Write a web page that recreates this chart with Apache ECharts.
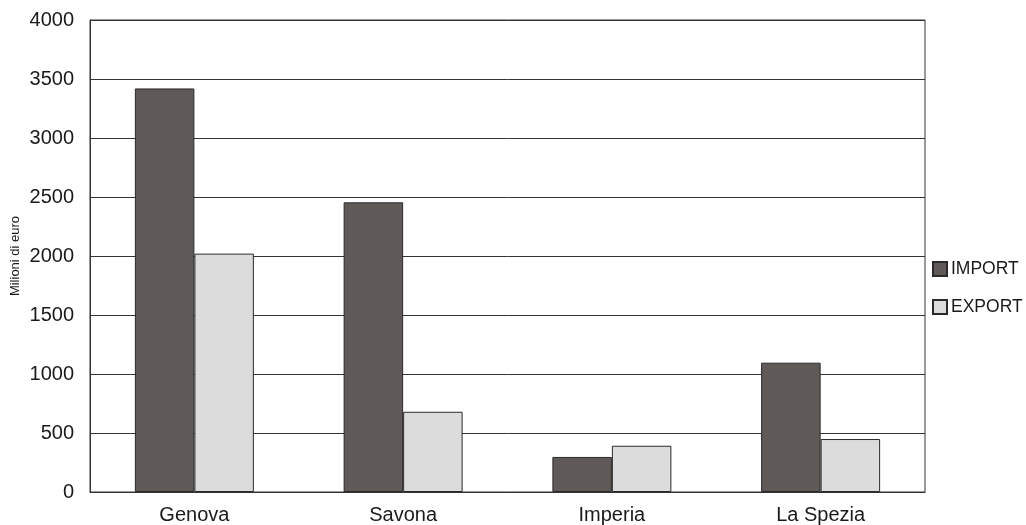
<!DOCTYPE html>
<html><head><meta charset="utf-8">
<script src="https://cdn.jsdelivr.net/npm/echarts@6/dist/echarts.min.js"></script>
<style>html,body{margin:0;padding:0;background:#fff}#c{width:1026px;height:525px}</style>
</head><body><div id="c"></div>
<script>
const categories = ['Genova', 'Savona', 'Imperia', 'La Spezia'];
const importValues = [3420, 2455, 297, 1096];
const exportValues = [2020, 680, 392, 449];
const yTicks = { min: 0, max: 4000, interval: 500 };

const chart = echarts.init(document.getElementById('c'));
const font = 'Liberation Sans, Arial, sans-serif';
chart.setOption({
  animation: false,
  backgroundColor: '#fff',
  grid: { left: 90, right: 101, top: 20, bottom: 33, show: true, borderColor: '#333', borderWidth: 1, outerBoundsMode: 'none', containLabel: false },
  legend: {
    orient: 'vertical', left: 932, top: 260, padding: 0, itemGap: 20, itemWidth: 14, itemHeight: 14,
    icon: 'rect', textStyle: { fontFamily: font, fontSize: 17.5, color: '#1a1a1a', padding: [0,0,0,-1] },
    data: ['IMPORT', 'EXPORT']
  },
  xAxis: {
    type: 'category', data: categories,
    axisLine: { lineStyle: { color: '#333' } }, axisTick: { show: false },
    axisLabel: { fontFamily: font, fontSize: 20, color: '#1a1a1a', margin: 13 }
  },
  yAxis: {
    type: 'value', min: yTicks.min, max: yTicks.max, interval: yTicks.interval,
    name: 'Milioni di euro', nameLocation: 'middle', nameGap: 68, nameRotate: 90, nameMoveOverlap: false,
    nameTextStyle: { fontFamily: font, fontSize: 13, color: '#1a1a1a' },
    axisLine: { show: true, lineStyle: { color: '#333' } }, axisTick: { show: false },
    axisLabel: { fontFamily: font, fontSize: 20, color: '#1a1a1a', margin: 16, formatter: v => String(v) },
    splitLine: { lineStyle: { color: '#333', width: 1 } }
  },
  series: [
    { name: 'IMPORT', type: 'bar', data: importValues, barGap: '0%', barCategoryGap: '43%',
      itemStyle: { color: '#5f5a58', borderColor: '#2a2a2a', borderWidth: 1 } },
    { name: 'EXPORT', type: 'bar', data: exportValues,
      itemStyle: { color: '#dcdcdc', borderColor: '#2a2a2a', borderWidth: 1 } }
  ]
});
</script></body></html>
